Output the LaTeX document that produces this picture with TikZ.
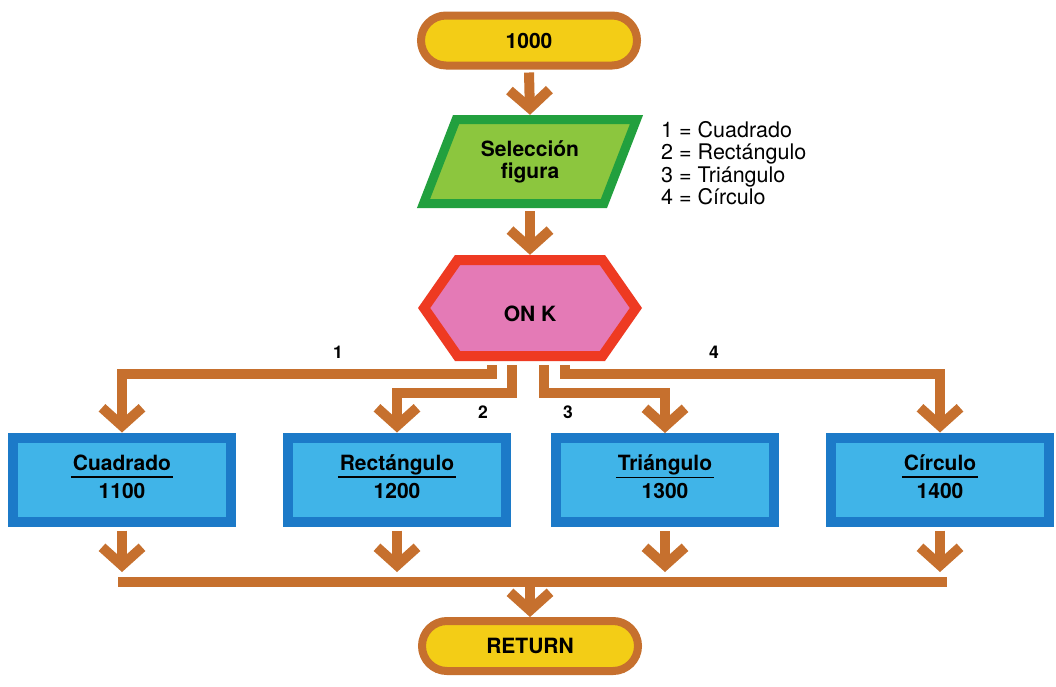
\documentclass[tikz,border=0pt]{standalone}
\usepackage{fontspec}
\setmainfont{TeX Gyre Heros}
\usetikzlibrary{arrows.meta}
\definecolor{brn}{RGB}{198,112,46}
\definecolor{yel}{RGB}{243,205,22}
\definecolor{grnB}{RGB}{34,160,62}
\definecolor{grnF}{RGB}{140,198,62}
\definecolor{redB}{RGB}{238,58,34}
\definecolor{pinkF}{RGB}{228,122,182}
\definecolor{bluB}{RGB}{28,122,200}
\definecolor{bluF}{RGB}{64,180,232}
\setlength{\tabcolsep}{2pt}
\setlength{\arrayrulewidth}{1.6pt}
\newcommand{\boxtxt}[2]{\begin{tabular}{c}#1\\[-1pt]\hline\rule{0pt}{20.5pt}#2\end{tabular}}
\begin{document}
\begin{tikzpicture}[x=1pt,y=-1pt,
 term/.style={draw=brn, fill=yel, line width=8pt, rounded corners=25pt, minimum width=216pt, minimum height=50pt, inner sep=0pt, font=\fontsize{21}{24}\selectfont\bfseries},
 proc/.style={draw=bluB, fill=bluF, line width=10pt, minimum width=218pt, minimum height=84pt, inner sep=0pt, font=\fontsize{21}{24}\selectfont\bfseries},
 flow/.style={draw=brn, line width=10pt, -{Straight Barb[length=18pt,width=40pt]}},
 wire/.style={draw=brn, line width=10pt},
 lbl/.style={font=\fontsize{17.5}{20}\selectfont\bfseries, inner sep=0pt},
 txt/.style={inner sep=0pt, align=center, font=\fontsize{21}{22}\selectfont\bfseries}
]
\useasboundingbox[fill=white] (0,0) rectangle (1056,686);

% start terminator
\node[term] (start) at (529,40.5) {1000};

% input parallelogram
\filldraw[fill=grnF, draw=grnB, line width=9pt, line join=miter]
  (456.1,119.5) -- (636.5,119.5) -- (603.9,203.5) -- (423.5,203.5) -- cycle;
\node[txt, minimum width=180pt, minimum height=93pt] (sel) at (530,161.5) {Selección\\figura};

% legend
\node[anchor=north west, align=left, inner sep=0pt, font=\fontsize{21.5}{22.5}\selectfont] (leg) at (661,121)
  {1 = Cuadrado\\2 = Rectángulo\\3 = Triángulo\\4 = Círculo};

% hexagon
\filldraw[fill=pinkF, draw=redB, line width=10pt, line join=miter]
  (424.1,308) -- (457.6,260) -- (602.4,260) -- (635.9,308) -- (602.4,356) -- (457.6,356) -- cycle;
\node[txt, minimum width=224pt, minimum height=106pt] (onk) at (530,308) {\raisebox{-13pt}[0pt][0pt]{ON K}};

% process boxes
\node[proc] (b1) at (122,479.5) {\boxtxt{Cuadrado}{1100}};
\node[proc] (b2) at (397,479.5) {\boxtxt{Rectángulo}{1200}};
\node[proc] (b3) at (665,480) {\boxtxt{Triángulo}{1300}};
\node[proc] (b4) at (940,479.5) {\boxtxt{Círculo}{1400}};

% return terminator
\node[term] (ret) at (530,646) {RETURN};

% top arrows
\draw[flow] ([yshift=-3pt]start.south) -- (sel.north);
\draw[flow] ([yshift=-3pt]sel.south) -- (onk.north);

% branches
\draw[flow] ([xshift=-38pt,yshift=-4pt]onk.south) -- ++(0,9) -| (b1.north);
\draw[flow] ([xshift=-18pt,yshift=-4pt]onk.south) -- ++(0,28) -| (b2.north);
\draw[flow] ([xshift=14pt,yshift=-4pt]onk.south) -- ++(0,28) -| (b3.north);
\draw[flow] ([xshift=35pt,yshift=-4pt]onk.south) -- ++(0,9) -| (b4.north);

% branch labels
\node[lbl] (l1) at (338,352) {1};
\node[lbl] (l2) at (483,412) {2};
\node[lbl] (l3) at (568,412) {3};
\node[lbl] (l4) at (714,352) {4};

% merge
\coordinate (jn) at (530,572);
\coordinate (barL) at (118,581.5);
\coordinate (barR) at (947,581.5);
\coordinate (barM) at (530,586.5);
\draw[flow] ([yshift=-4pt]b1.south) -- (b1.south |- jn);
\draw[flow] ([yshift=-4pt]b2.south) -- (b2.south |- jn);
\draw[flow] ([yshift=-4pt]b3.south) -- (b3.south |- jn);
\draw[flow] ([yshift=-4pt]b4.south) -- (b4.south |- jn);
\draw[wire] (barL) -- (barR);
\draw[flow] (barM) -- (ret.north);
\end{tikzpicture}
\end{document}
